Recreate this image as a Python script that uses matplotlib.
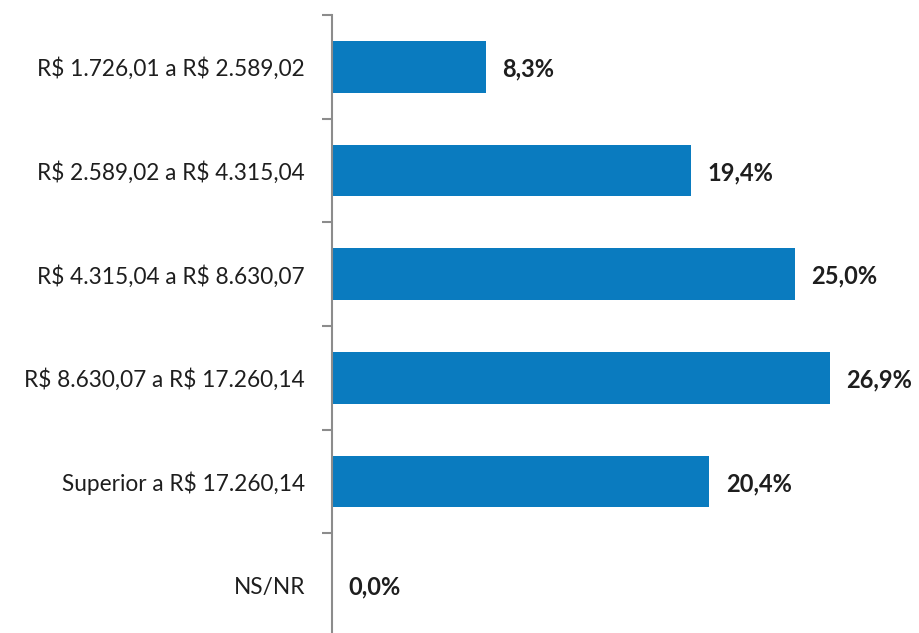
import numpy as np
import matplotlib.pyplot as plt
from matplotlib.ticker import FixedLocator

faixas = ["R$ 1.726,01 a R$ 2.589,02",
          "R$ 2.589,02 a R$ 4.315,04",
          "R$ 4.315,04 a R$ 8.630,07",
          "R$ 8.630,07 a R$ 17.260,14",
          "Superior a R$ 17.260,14",
          "NS/NR"]
percentuais = [8.3, 19.4, 25.0, 26.9, 20.4, 0.0]
rotulos = ["8,3%", "19,4%", "25,0%", "26,9%", "20,4%", "0,0%"]

plt.rcParams['font.family'] = ['Lato', 'DejaVu Sans']
plt.rcParams['text.parse_math'] = False

fig = plt.figure(figsize=(9.19, 6.33), dpi=100)
ax = fig.add_axes([332/919, -4/633, (887-332)/919, (637-15)/633])

pos = np.arange(len(faixas))
ax.barh(pos, percentuais, height=0.5, color="#0a7bbf")
for p, v, r in zip(pos, percentuais, rotulos):
    ax.text(v + 0.9, p + 0.02, r, va="center", ha="left", fontsize=17,
            fontweight="bold", color="#1e1e1e")

ax.set_xlim(0, 30)
ax.set_ylim(len(faixas) - 0.5, -0.5)
ax.set_yticks(pos)
ax.set_yticklabels(faixas, fontsize=16.3, color="#1e1e1e")
ax.yaxis.set_minor_locator(FixedLocator(np.arange(-0.5, len(faixas), 1)))
ax.tick_params(axis="y", which="major", length=0, pad=19.5)
ax.tick_params(axis="y", which="minor", length=7, width=1.5, color="#8c8c8c")
ax.set_xticks([])
for s in ["top", "right", "bottom"]:
    ax.spines[s].set_visible(False)
ax.spines["left"].set_color("#8c8c8c")
ax.spines["left"].set_linewidth(1.5)

fig.savefig("out.png", dpi=100)
